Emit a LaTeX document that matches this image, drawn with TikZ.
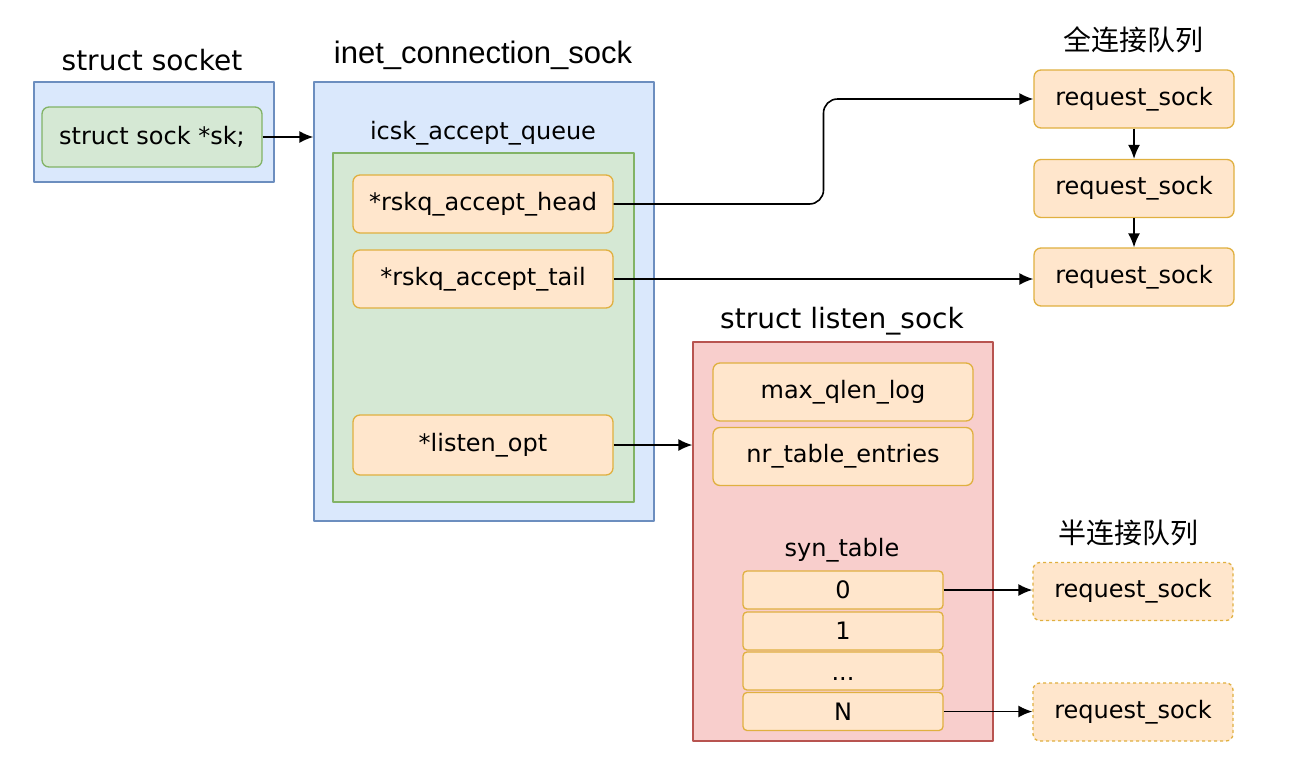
\documentclass[tikz,border=0pt]{standalone}
\usepackage{fontspec}
\setmainfont{DejaVu Sans}
\newfontfamily\helv{Liberation Sans}
\newfontfamily\cjk{Noto Sans CJK SC}
\usepackage{tikz}
\usetikzlibrary{arrows.meta, calc, positioning, shapes}

\definecolor{bluefill}{HTML}{DAE8FC}
\definecolor{blueline}{HTML}{6C8EBF}
\definecolor{greenfill}{HTML}{D5E8D4}
\definecolor{greenline}{HTML}{82B366}
\definecolor{orangefill}{HTML}{FFE6CC}
\definecolor{orangeline}{HTML}{E0B040}
\definecolor{redfill}{HTML}{F8CECC}
\definecolor{redline}{HTML}{B85450}

\begin{document}
\begin{tikzpicture}[>={Latex[length=14pt,width=12pt]}, x=1pt, y=-1pt, line join=round,
        every node/.style={font=\fontsize{24}{28}\selectfont},
        title/.style={font=\fontsize{28}{32}\selectfont},
        bluebox/.style={draw=blueline, fill=bluefill, line width=1.3pt},
        greenbox/.style={draw=greenline, fill=greenfill, line width=1.3pt},
        redbox/.style={draw=redline, fill=redfill, line width=1.3pt},
        field/.style={draw=orangeline, fill=orangefill, line width=1.3pt, rounded corners=7pt,
                minimum width=260pt, minimum height=58pt},
        cell/.style={field, minimum width=200pt, minimum height=38pt, rounded corners=4pt},
        reqsock/.style={field, minimum width=200pt},
        link/.style={->, line width=1.6pt}]
        \useasboundingbox (0,0) rectangle (1296,774);
        \fill[white] (0,0) rectangle (1296,774);

        % struct socket
        \node[title] (socktitle) at (152,60) {struct socket};
        \node[bluebox, minimum width=240pt, minimum height=100pt] (socket) at (154,132) {};
        \node[greenbox, rounded corners=7pt, minimum width=220pt, minimum height=60pt] (sk) at (152,137) {struct sock *sk;};

        % inet_connection_sock
        \node[font=\helv\fontsize{31}{36}\selectfont] (inettitle) at (483,55) {inet\_connection\_sock};
        \node[bluebox, minimum width=340pt, minimum height=439pt] (inet) at (484,301.5) {};
        \node (queuetitle) at (483,133) {icsk\_accept\_queue};
        \node[greenbox, minimum width=301pt, minimum height=349pt] (queue) at (483.5,327.5) {};
        \node[field] (head) at (483,204) {*rskq\_accept\_head};
        \node[field] (tail) at (483,279) {*rskq\_accept\_tail};
        \node[field, minimum height=60pt] (opt) at (483,445) {*listen\_opt};

        % struct listen_sock
        \node[title] (lsocktitle) at (842,321) {struct listen\_sock};
        \node[redbox, minimum width=300pt, minimum height=399pt] (lsock) at (843,541.5) {};
        \node[field] (qlen) at (843,392) {max\_qlen\_log};
        \node[field] (entries) at (843,456.5) {nr\_table\_entries};
        \node (syntitle) at (842,550) {syn\_table};
        \node[cell] (c0) at (843,590) {0};
        \node[cell] (c1) at (843,631) {1};
        \node[cell] (cdots) at (843,671) {\raisebox{-9pt}[0pt][0pt]{...}};
        \node[cell] (cN) at (843,711.5) {N};

        % queues
        \node[font=\cjk\fontsize{28}{32}\selectfont] (fulltitle) at (1133,40) {全连接队列};
        \node[reqsock] (rs1) at (1134,99) {request\_sock};
        \node[reqsock] (rs2) at (1134,188.5) {request\_sock};
        \node[reqsock] (rs3) at (1134,277) {request\_sock};
        \node[font=\cjk\fontsize{28}{32}\selectfont] (halftitle) at (1128,533) {半连接队列};
        \node[reqsock, dashed] (hs1) at (1133,591.5) {request\_sock};
        \node[reqsock, dashed] (hs2) at (1133,712) {request\_sock};

        \draw[link] (sk) -- (sk -| inet.west);
        \draw[link, rounded corners=14pt] (head.east) -- ($(head.east)!.5!(head.east -| rs1.west)$) |- (rs1.west);
        \draw[link] (tail.east) -- (tail.east -| rs3.west);
        \draw[link] (rs1) -- (rs2);
        \draw[link] (rs2) -- (rs3);
        \draw[link] (opt.east) -- (opt.east -| lsock.west);
        \draw[link] (c0.east) -- (c0.east -| hs1.west);
        \draw[link] (cN.east) -- (cN.east -| hs2.west);
\end{tikzpicture}
\end{document}
